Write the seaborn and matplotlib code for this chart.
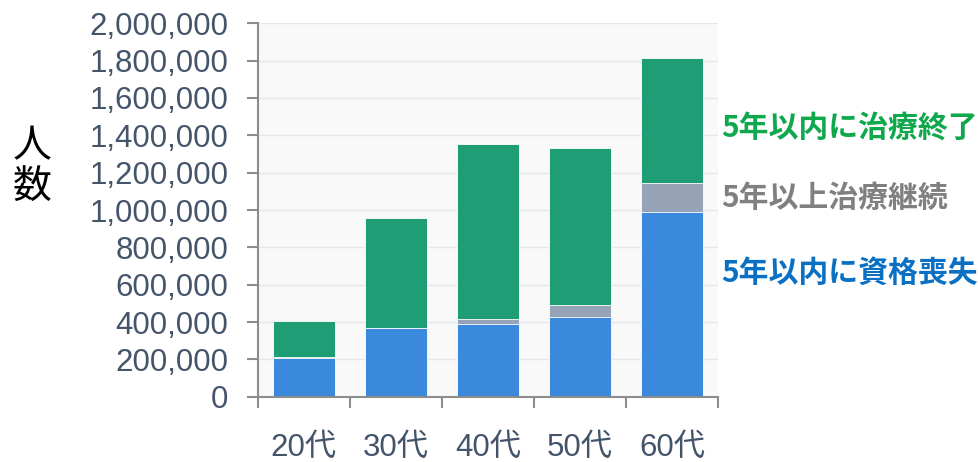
import numpy as np
import pandas as pd
import seaborn as sns
import matplotlib.pyplot as plt
from matplotlib.ticker import FuncFormatter, FixedLocator

# Data
ages = ['20代', '30代', '40代', '50代', '60代']
lost_within_5y = [210000, 366000, 392000, 428000, 989000]      # 5年以内に資格喪失
continuing_5y = [2000, 4000, 23000, 62000, 157000]             # 5年以上治療継続
finished_within_5y = [195000, 587000, 936000, 840000, 668000]  # 5年以内に治療終了

series_labels = ['5年以内に治療終了', '5年以上治療継続', '5年以内に資格喪失']
series_colors = ['#1f9e76', '#97a4b8', '#3a89dc']
label_colors = ['#10a84c', '#808080', '#0a70c4']

df = pd.DataFrame({
    'age': ages,
    'lost': lost_within_5y,
    'cont': continuing_5y,
    'fin': finished_within_5y,
})
df['lost_cont'] = df['lost'] + df['cont']
df['total'] = df['lost_cont'] + df['fin']

sns.set_theme(style='white')
plt.rcParams['font.family'] = ['Liberation Sans', 'Noto Sans CJK JP', 'DejaVu Sans']

fig = plt.figure(figsize=(9.79, 4.62), dpi=100)
ax = fig.add_axes([0.2632, 0.1413, 0.4705, 0.8083])
ax.set_facecolor('#f9f9f9')

# stacked bars drawn as cumulative layers
bar_kw = dict(width=0.67, saturation=1, edgecolor='white', linewidth=0.6, ax=ax)
sns.barplot(data=df, x='age', y='total', color=series_colors[0], **bar_kw)
sns.barplot(data=df, x='age', y='lost_cont', color=series_colors[1], **bar_kw)
sns.barplot(data=df, x='age', y='lost', color=series_colors[2], **bar_kw)

ax.set_ylim(0, 2000000)
ax.set_xlim(-0.5, len(ages) - 0.5)
ax.yaxis.set_major_locator(FixedLocator(np.arange(0, 2000001, 200000)))
ax.yaxis.set_major_formatter(FuncFormatter(lambda v, p: f'{int(v):,}'))
ax.grid(axis='y', color='#e3e8ef', linewidth=1)
ax.set_axisbelow(True)

# boundary ticks on x, labels at centers
ax.set_xticks(np.arange(-0.5, len(ages)), minor=False)
ax.set_xticklabels([])
ax.set_xticks(np.arange(len(ages)), minor=True)
ax.set_xticklabels(ages, minor=True)
ax.tick_params(axis='x', which='major', length=8, width=1.5, color='#8c8c8c', direction='out')
ax.tick_params(axis='x', which='minor', length=0, pad=26, labelsize=22.5, labelcolor='#44546a')
ax.tick_params(axis='y', length=8, width=1.5, color='#8c8c8c', direction='out',
               labelsize=22.5, labelcolor='#44546a', pad=13)
ax.tick_params(bottom=True, left=True)

for s in ['top', 'right']:
    ax.spines[s].set_visible(False)
for s in ['left', 'bottom']:
    ax.spines[s].set_color('#8c8c8c')
    ax.spines[s].set_linewidth(1.5)

ax.set_xlabel('')
ax.set_ylabel('')

fig.text(32 / 979, 1 - 167 / 462, '人\n数', ha='center', va='center', fontsize=28,
         color='black', linespacing=1.05, family=['Noto Sans CJK JP'])

# right-hand series labels
label_y = [128, 198, 273]
for txt, c, yp in zip(series_labels, label_colors, label_y):
    fig.text(721 / 979, 1 - yp / 462, txt, ha='left', va='center', fontsize=21.5,
             fontweight='bold', color=c, family=['Noto Sans CJK JP'])

fig.savefig('out.png', dpi=100)
